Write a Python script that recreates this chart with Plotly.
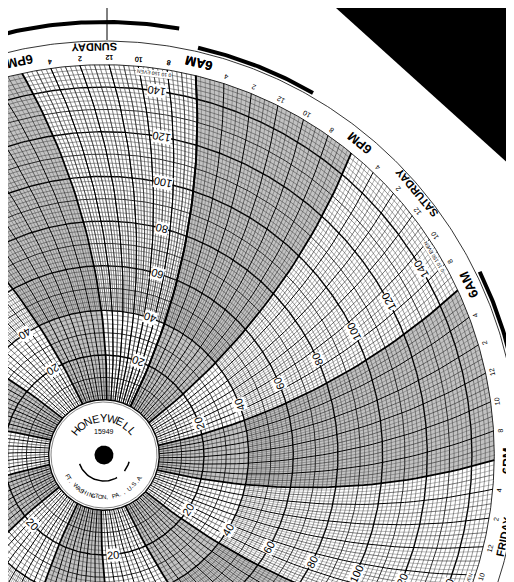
import numpy as np
import plotly.graph_objects as go

# ---- data ----
days = ["SUNDAY", "SATURDAY", "FRIDAY", "THURSDAY", "WEDNESDAY", "TUESDAY", "MONDAY"]
day_noon_hours = [6, -18, -42, -66, -90, -114, -138]   # hours from Sunday 6AM
value_ticks = [20, 40, 60, 80, 100, 120, 140]
hour_ticks = list(range(-168, 12, 2))                   # every 2 h over the week
scale_min, scale_max = 0, 150

# ---- geometry ----
CX, CY = 96, 447
R0, K = 55.3, 2.233          # radius = R0 + K*value
ROUT = R0 + K * scale_max
ARM = 650.0
TH0 = 76.4                    # outer angle of Sunday 6AM
DEG_PER_H = 360 / 168

def rad(v): return R0 + K * v
def theta(T, r):
    return TH0 + T * DEG_PER_H - (np.degrees(np.arcsin(ROUT / (2 * ARM))) - np.degrees(np.arcsin(r / (2 * ARM))))
def xy(r, th):
    t = np.radians(th)
    return CX + r * np.cos(t), CY - r * np.sin(t)

fig = go.Figure()

# night shading 6PM -> 6AM
for d in range(-8, 2):
    Ts, Te = 12 + 24 * d - 24, 24 * d
    rr = np.linspace(R0, ROUT, 40)
    xs, ys = [], []
    x, y = xy(rr, theta(Ts, rr)); xs += list(x); ys += list(y)
    tt = np.linspace(Ts, Te, 40)
    x, y = xy(ROUT, theta(tt, ROUT)); xs += list(x); ys += list(y)
    x, y = xy(rr[::-1], theta(Te, rr[::-1])); xs += list(x); ys += list(y)
    x, y = xy(R0, theta(tt[::-1], R0)); xs += list(x); ys += list(y)
    fig.add_trace(go.Scatter(x=xs, y=ys, fill="toself", fillcolor="#c2c2c2",
                             line=dict(width=0), mode="lines", hoverinfo="skip"))

def add_lines(segs, w, c):
    xs, ys = [], []
    for sx, sy in segs:
        xs += list(sx) + [None]; ys += list(sy) + [None]
    fig.add_trace(go.Scatter(x=xs, y=ys, mode="lines", line=dict(width=w, color=c), hoverinfo="skip"))

ang = np.linspace(-180, 180, 720)
thin, mid, bold = [], [], []
for v in range(scale_min, scale_max + 1, 2):
    seg = xy(rad(v), ang)
    (bold if v % 20 == 0 else mid if v % 10 == 0 else thin).append(seg)
add_lines(thin, 0.5, "#333")
add_lines(mid, 0.9, "#111")
add_lines(bold, 1.4, "#000")

fine, hr, hr2, main = [], [], [], []
rr_f = np.linspace(rad(40), ROUT, 30)
rr_a = np.linspace(R0, ROUT, 40)
for i in range(-168 * 3, 12 * 3):
    T = i / 3
    if i % 3:
        fine.append(xy(rr_f, theta(T, rr_f)))
    else:
        Ti = i // 3
        seg = xy(rr_a, theta(Ti, rr_a))
        if Ti % 12 == 0:
            main.append(seg)
        elif Ti % 2 == 0:
            hr2.append(seg)
        else:
            hr.append(seg)
add_lines(fine, 0.4, "#444")
add_lines(hr, 0.6, "#222")
add_lines(hr2, 1.0, "#000")
add_lines(main, 1.8, "#000")

add_lines([xy(414, ang)], 0.8, "#000")
add_lines([xy(433, np.linspace(80, 112, 60))], 4, "#000")
add_lines([xy(418, np.linspace(60, 77, 40)), xy(418, np.linspace(-1, 26, 60))], 4, "#000")

hub = xy(53, ang)
fig.add_trace(go.Scatter(x=hub[0], y=hub[1], fill="toself", fillcolor="white",
                         line=dict(width=0.8, color="#666"), mode="lines", hoverinfo="skip"))
dot = xy(9.5, ang)
fig.add_trace(go.Scatter(x=dot[0], y=dot[1], fill="toself", fillcolor="black",
                         line=dict(width=0), mode="lines", hoverinfo="skip"))
add_lines([xy(26, np.linspace(200, 300, 40)), xy(26, np.linspace(322, 345, 15))], 1.5, "#000")

ann = []
def txt(x, y, s, size, angle=0, bold=False, bg=None):
    d = dict(x=x, y=y, text=f"<b>{s}</b>" if bold else s, showarrow=False,
             textangle=angle, font=dict(size=size, color="black", family="Liberation Sans"),
             xanchor="center", yanchor="middle")
    if bg:
        d.update(bgcolor=bg, borderpad=0)
    ann.append(d)

for T in hour_ticks:
    h = (6 + T) % 24
    th = theta(T, ROUT)
    if h in (6, 18):
        x, y = xy(403, th); txt(x, y, "6AM" if h == 6 else "6PM", 13, 270 - th, True)
    else:
        x, y = xy(397, th); txt(x, y, str(h % 12 or 12), 7, 270 - th)

for name, Tn in zip(days, day_noon_hours):
    th = theta(Tn + 1, ROUT)
    x, y = xy(408, th); txt(x, y, name, 11, 270 - th, True)
    for v in value_ticks:
        r = rad(v)
        t2 = theta(Tn, r) - 6.5
        x, y = xy(r, t2); txt(x, y, str(v), 11, 270 - t2, bg="white")
    t3 = theta(Tn, 385) - 6.5
    x, y = xy(385, t3); txt(x, y, "0 10 150 EVEN", 5, 270 - t3, bg="white")

for i, ch in enumerate("HONEYWELL"):
    th = 140 - i * 100 / 8
    x, y = xy(37, th); txt(x, y, ch, 11, 90 - th)
txt(CX, CY - 24, "15949", 7)
s = "FT. WASHINGTON, PA., U.S.A."
for i, ch in enumerate(s):
    th = 210 + i * 120 / (len(s) - 1)
    x, y = xy(42, th); txt(x, y, ch, 6, 270 - th)

fig.update_layout(
    width=514, height=582, margin=dict(l=0, r=0, t=0, b=0),
    paper_bgcolor="white", plot_bgcolor="white", showlegend=False,
    xaxis=dict(range=[0, 514], visible=False, fixedrange=True),
    yaxis=dict(range=[582, 0], visible=False, fixedrange=True),
    annotations=ann,
    shapes=[
        dict(type="path", path="M 328 0 L 514 0 L 514 168 Z", fillcolor="black", line=dict(width=0)),
        dict(type="line", x0=99, y0=0, x1=99, y1=32, line=dict(color="black", width=1)),
    ],
)
fig.write_html("out.html")
